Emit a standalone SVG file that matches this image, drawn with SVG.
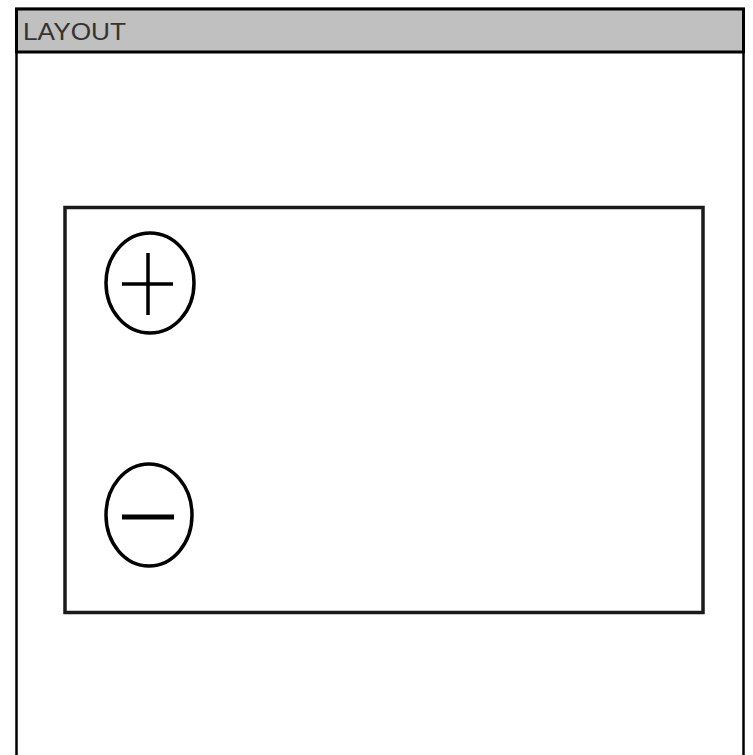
<svg xmlns="http://www.w3.org/2000/svg" width="753" height="755" viewBox="0 0 753 755">
<style>
.sym{fill:none;stroke:#000;stroke-width:3.5}
</style>
<rect width="753" height="755" fill="#fff"/>
<g id="layout">
<rect x="16.5" y="9" width="727" height="760" fill="#fff" stroke="#000" stroke-width="2.5"/>
<rect x="16.5" y="9" width="727" height="43" fill="#c0c0c0" stroke="#000" stroke-width="3"/>
<text x="23" y="40" font-family="Liberation Sans, Arial, sans-serif" font-size="24" textLength="103" lengthAdjust="spacingAndGlyphs" fill="#333">LAYOUT</text>
</g>
<g id="panel">
<rect x="65" y="207.5" width="638" height="405" fill="#fff" stroke="#1a1a1a" stroke-width="3.5"/>
</g>
<g id="zoom-in">
<ellipse class="sym" cx="150" cy="283" rx="44" ry="50"/>
<line class="sym" x1="122" y1="284" x2="173" y2="284"/>
<line class="sym" x1="148" y1="253" x2="148" y2="315"/>
</g>
<g id="zoom-out">
<ellipse class="sym" cx="149" cy="515" rx="43" ry="51"/>
<line x1="122" y1="517" x2="174" y2="517" stroke="#000" stroke-width="5"/>
</g>
</svg>
